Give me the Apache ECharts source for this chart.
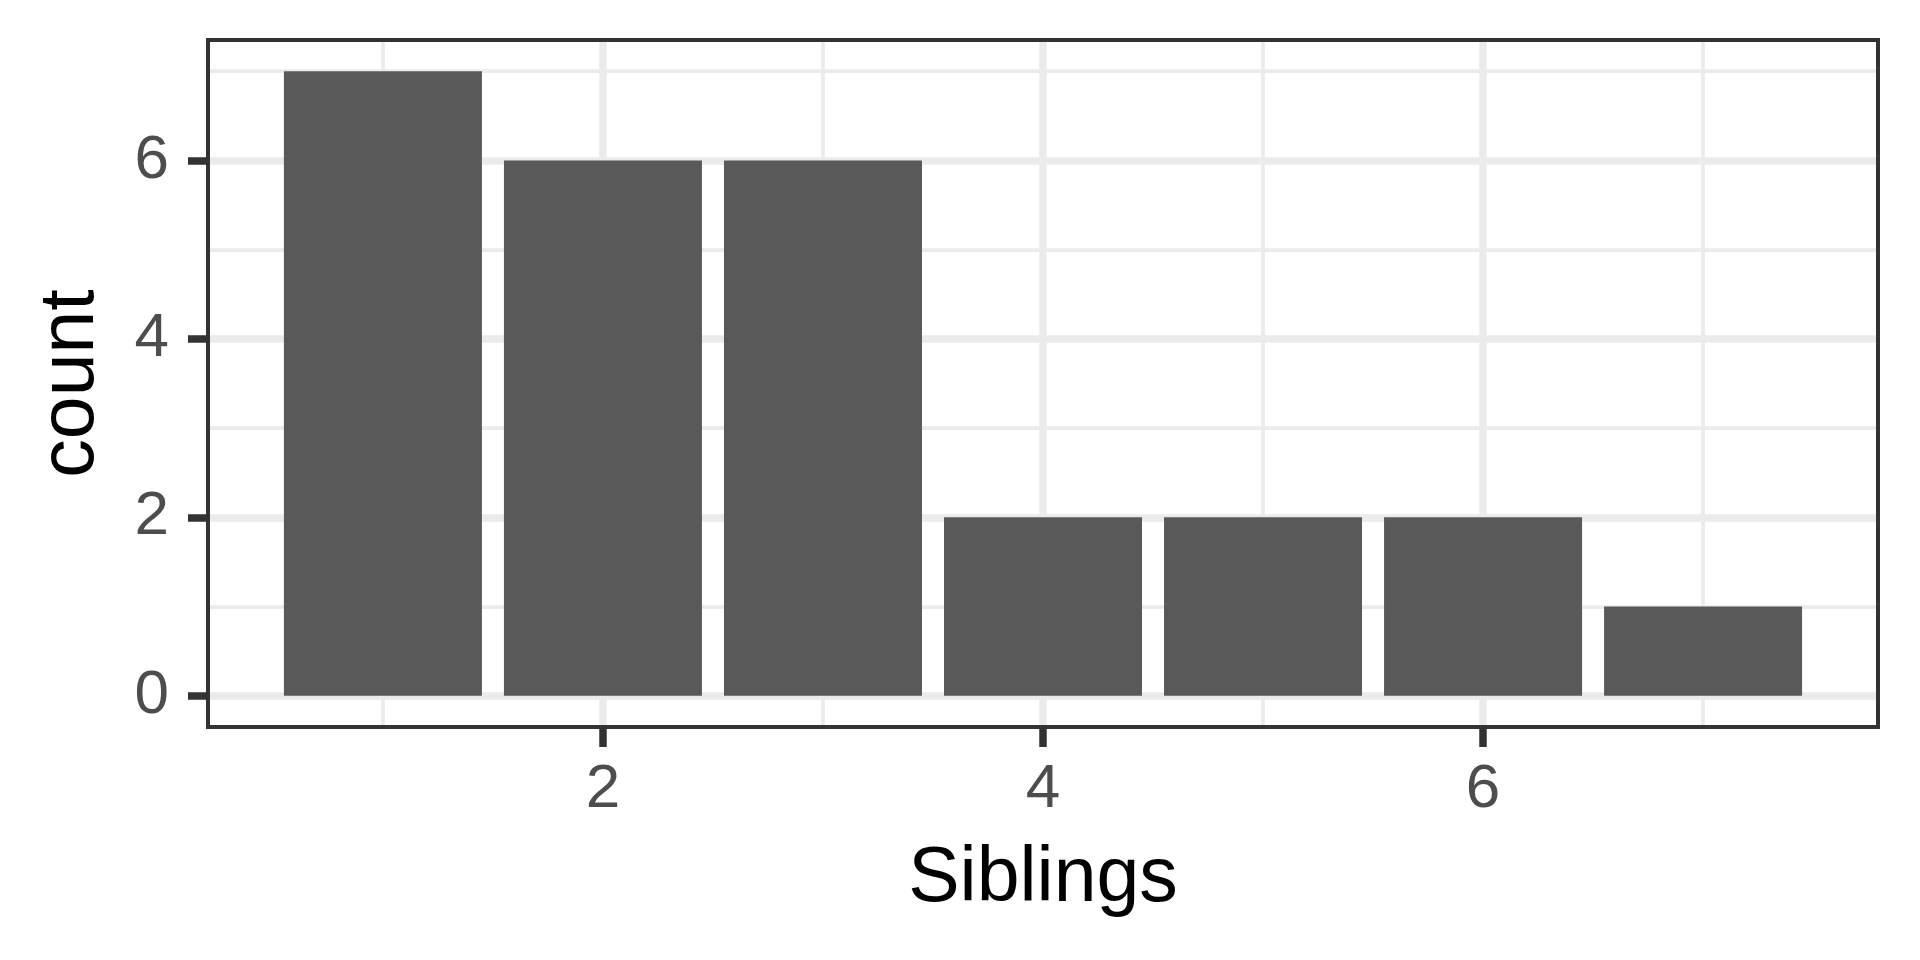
<!DOCTYPE html>
<html>
<head>
<meta charset="utf-8">
<title>Siblings</title>
<script src="https://cdn.jsdelivr.net/npm/echarts@6/dist/echarts.min.js"></script>
<style>
  html, body { margin: 0; padding: 0; background: #fff; }
  #chart { width: 1920px; height: 960px; }
</style>
</head>
<body>
<div id="chart"></div>
<script>
  // 数据
  const siblings = [1, 2, 3, 4, 5, 6, 7];
  const counts = [7, 6, 6, 2, 2, 2, 1];
  const xTicks = [2, 4, 6];
  const xMinor = [1, 3, 5, 7];
  const yTicks = [0, 2, 4, 6];
  const yMinor = [1, 3, 5, 7];

  const chart = echarts.init(document.getElementById('chart'));

  const font = 'Liberation Sans';
  const majorW = 7.5, minorW = 3.75;

  // 网格线 (ggplot 风格), 用 markLine 走坐标轴刻度
  const gridLines = []
    .concat(xMinor.map(v => ({ xAxis: v, lineStyle: { width: minorW } })))
    .concat(yMinor.map(v => ({ yAxis: v, lineStyle: { width: minorW } })))
    .concat(xTicks.map(v => ({ xAxis: v, lineStyle: { width: majorW } })))
    .concat(yTicks.map(v => ({ yAxis: v, lineStyle: { width: majorW } })));

  const option = {
    animation: false,
    backgroundColor: '#ffffff',
    grid: {
      left: 208, right: 42, top: 40, bottom: 233,
      show: true,
      z: 3,
      borderColor: '#333333',
      borderWidth: 4,
      backgroundColor: 'transparent'
    },
    xAxis: {
      type: 'value',
      min: 0.205,
      max: 7.795,
      name: 'Siblings',
      nameLocation: 'middle',
      nameGap: 114,
      nameTextStyle: { fontFamily: font, fontSize: 77, color: '#000' },
      axisLine: { show: false, onZero: false },
      splitLine: { show: false },
      axisTick: {
        show: true, length: 20, customValues: xTicks,
        lineStyle: { color: '#333333', width: 7.5 }
      },
      axisLabel: {
        customValues: xTicks, margin: 32,
        fontFamily: font, fontSize: 62, color: '#4D4D4D'
      }
    },
    yAxis: {
      type: 'value',
      min: -0.35,
      max: 7.35,
      name: 'count',
      nameLocation: 'middle',
      nameGap: 98,
      nameTextStyle: { fontFamily: font, fontSize: 77, color: '#000' },
      axisLine: { show: false, onZero: false },
      splitLine: { show: false },
      axisTick: {
        show: true, length: 20, customValues: yTicks,
        lineStyle: { color: '#333333', width: 7.5 }
      },
      axisLabel: {
        customValues: yTicks, margin: 39,
        fontFamily: font, fontSize: 62, color: '#4D4D4D'
      }
    },
    series: [
      {
        // 网格线
        type: 'line',
        data: [],
        silent: true,
        markLine: {
          silent: true,
          z: 1,
          symbol: ['none', 'none'],
          label: { show: false },
          lineStyle: { color: '#EBEBEB', type: 'solid' },
          data: gridLines
        }
      },
      {
        type: 'bar',
        data: siblings.map((s, i) => [s, counts[i]]),
        barWidth: 198,
        itemStyle: { color: '#595959' },
        z: 2
      }
    ]
  };
  chart.setOption(option);
</script>
</body>
</html>
